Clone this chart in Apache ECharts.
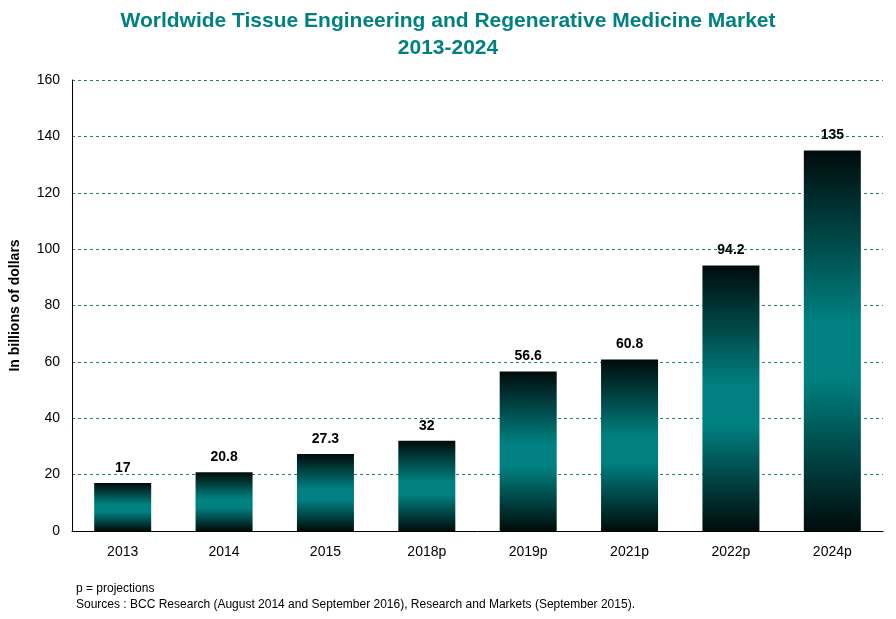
<!DOCTYPE html>
<html><head><meta charset="utf-8">
<script src="https://cdn.jsdelivr.net/npm/echarts@6/dist/echarts.min.js"></script>
<style>html,body{margin:0;padding:0;background:#fff}#c{width:896px;height:619px}</style>
</head><body><div id="c"></div>
<script>
const categories = ['2013','2014','2015','2018p','2019p','2021p','2022p','2024p'];
const marketValues = [17, 20.8, 27.3, 32, 56.6, 60.8, 94.2, 135];
const yTicks = [0, 20, 40, 60, 80, 100, 120, 140, 160];

const chart = echarts.init(document.getElementById('c'));
const font = 'Liberation Sans, Arial, sans-serif';
const barGrad = new echarts.graphic.LinearGradient(0, 0, 0, 1, [
  {offset: 0, color: '#010b0b'},
  {offset: 0.45, color: '#008080'},
  {offset: 0.6, color: '#008080'},
  {offset: 1, color: '#010b0b'}
]);
chart.setOption({
  backgroundColor: '#fff',
  animation: false,
  title: {
    text: 'Worldwide Tissue Engineering and Regenerative Medicine Market\n2013-2024',
    left: 'center', top: 3,
    textStyle: {fontFamily: font, fontSize: 21, fontWeight: 'bold', color: '#008080', lineHeight: 27}
  },
  graphic: [
    {type: 'text', left: 76, top: 583, style: {text: 'p = projections', font: '12px ' + font, fill: '#000'}},
    {type: 'text', left: 76, top: 599, style: {text: 'Sources : BCC Research (August 2014 and September 2016), Research and Markets (September 2015).', font: '12px ' + font, fill: '#000'}}
  ],
  grid: {left: 71, right: 13, top: 80, bottom: 88},
  xAxis: {
    type: 'category', data: categories,
    axisLine: {lineStyle: {color: '#000', width: 1}},
    axisTick: {show: false},
    axisLabel: {fontFamily: font, fontSize: 14, color: '#000', margin: 14}
  },
  yAxis: {
    type: 'value', min: yTicks[0], max: yTicks[yTicks.length - 1], interval: 20,
    name: 'In billions of dollars', nameLocation: 'middle', nameGap: 50, nameRotate: 90,
    nameTextStyle: {fontFamily: font, fontSize: 14, fontWeight: 'bold', color: '#000'},
    axisLine: {show: true, lineStyle: {color: '#000', width: 1}},
    axisTick: {show: false},
    axisLabel: {fontFamily: font, fontSize: 14, color: '#000', margin: 12},
    splitLine: {lineStyle: {color: '#1a7f7f', type: [3, 3], width: 1}}
  },
  series: [{
    type: 'bar', data: marketValues, barWidth: 57,
    itemStyle: {color: barGrad},
    label: {show: true, position: 'top', distance: 8, fontFamily: font, fontSize: 14, fontWeight: 'bold', color: '#000'}
  }]
});
</script></body></html>
